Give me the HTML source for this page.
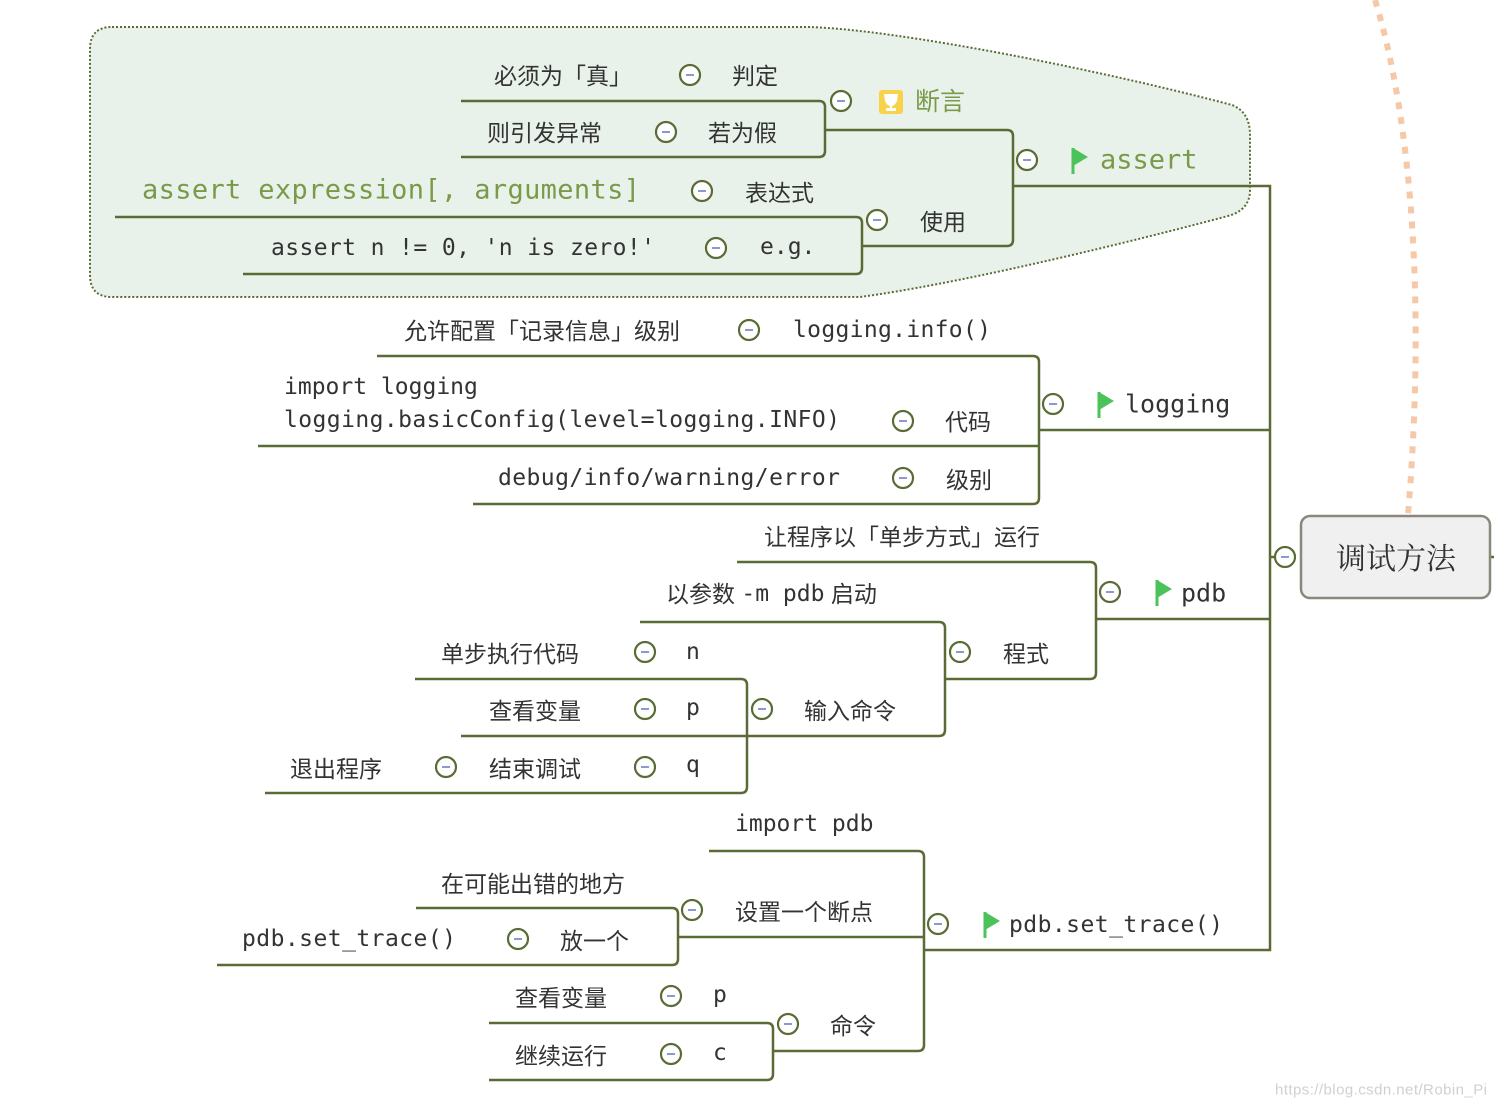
<!DOCTYPE html>
<html><head><meta charset="utf-8"><style>
html,body{margin:0;padding:0;background:#fff;width:1494px;height:1108px;overflow:hidden}
svg{display:block}
.c{font-family:"Liberation Sans","Noto Sans CJK SC",sans-serif;font-size:23px;fill:#333}
.m{font-family:"DejaVu Sans Mono","Liberation Mono",monospace;font-size:23px;fill:#333}
.g{fill:#7a9a4a}
</style></head><body>
<svg width="1494" height="1108" viewBox="0 0 1494 1108" xmlns="http://www.w3.org/2000/svg">
<defs>
<g id="cir"><circle r="10" fill="#fff" stroke="#5a6b35" stroke-width="2.2"/><line x1="-4" y1="0" x2="4" y2="0" stroke="#8a9ad0" stroke-width="2"/></g>
<g id="flag"><line x1="0" y1="-12" x2="0" y2="14" stroke="#4cc25a" stroke-width="3"/><polygon points="0,-12 15,-3 0,6" fill="#4cc25a"/></g>
</defs>
<path d="M112,27 L810,27 C900,30 1100,70 1232,105 Q1250,112 1250,135 L1250,190 Q1250,210 1228,216 C1100,250 950,285 860,297 L112,297 Q90,297 90,275 L90,49 Q90,27 112,27 Z" fill="#e8f2ea" stroke="#5a6b35" stroke-width="2" stroke-dasharray="2 2"/>
<path d="M1375,0 C1400,80 1430,250 1408,515" fill="none" stroke="#f5c8a8" stroke-width="6" stroke-dasharray="7 8"/>
<g fill="none" stroke="#5a6b35" stroke-width="2.5">
<path d="M1013,186 L1270,186 L1270,950 L924,950"/>
<path d="M1039,430 L1270,430 M1096,619 L1270,619 M1270,557 L1276,557 M1490,557 L1494,557"/>
<path d="M1007,130 Q1013,130 1013,136 L1013,240 Q1013,246 1007,246 L862,246"/>
<path d="M825,130 L1007,130"/>
<path d="M461,101 L819,101 Q825,101 825,107 L825,151 Q825,157 819,157 L461,157"/>
<path d="M115,217 L856,217 Q862,217 862,223 L862,268 Q862,274 856,274 L243,274"/>
<path d="M377,356 L1033,356 Q1039,356 1039,362 L1039,498 Q1039,504 1033,504 L473,504"/>
<path d="M258,446 L1039,446"/>
<path d="M737,562 L1090,562 Q1096,562 1096,568 L1096,673 Q1096,679 1090,679 L945,679"/>
<path d="M640,622 L939,622 Q945,622 945,628 L945,730 Q945,736 939,736 L747,736"/>
<path d="M415,679 L741,679 Q747,679 747,685 L747,787 Q747,793 741,793 L265,793"/>
<path d="M461,736 L747,736"/>
<path d="M709,851 L918,851 Q924,851 924,857 L924,1045 Q924,1051 918,1051 L773,1051"/>
<path d="M678,937 L924,937"/>
<path d="M416,908 L672,908 Q678,908 678,914 L678,959 Q678,965 672,965 L217,965"/>
<path d="M489,1023 L767,1023 Q773,1023 773,1029 L773,1074 Q773,1080 767,1080 L489,1080"/>
</g>
<rect x="1301" y="516" width="189" height="82" rx="9" fill="#f0f0f0" stroke="#8a877d" stroke-width="2.5"/>
<text x="1396" y="569" text-anchor="middle" style="font-family:'Noto Serif CJK SC',serif;font-size:30px;fill:#333">调试方法</text>
<use href="#cir" x="1285" y="557"/>
<use href="#cir" x="1027" y="160"/><use href="#cir" x="841" y="101"/><use href="#cir" x="690" y="75"/><use href="#cir" x="666" y="132"/>
<use href="#cir" x="877" y="220"/><use href="#cir" x="702" y="191"/><use href="#cir" x="716" y="248"/>
<use href="#cir" x="1053" y="404"/><use href="#cir" x="749" y="330"/><use href="#cir" x="903" y="421"/><use href="#cir" x="903" y="478"/>
<use href="#cir" x="1110" y="592"/><use href="#cir" x="960" y="652"/><use href="#cir" x="762" y="709"/>
<use href="#cir" x="645" y="652"/><use href="#cir" x="645" y="709"/><use href="#cir" x="645" y="767"/><use href="#cir" x="446" y="767"/>
<use href="#cir" x="938" y="924"/><use href="#cir" x="692" y="910"/><use href="#cir" x="518" y="939"/>
<use href="#cir" x="788" y="1024"/><use href="#cir" x="671" y="996"/><use href="#cir" x="671" y="1054"/>
<use href="#flag" x="1073" y="160"/><use href="#flag" x="1099" y="404"/><use href="#flag" x="1157" y="592"/><use href="#flag" x="985" y="924"/>
<rect x="879" y="90" width="24" height="24" rx="3" fill="#f8d24a"/>
<path d="M884,94 L898,94 L897,101 Q895,106 891,106 Q887,106 885,101 Z" fill="#fff"/><rect x="890" y="105" width="2" height="4" fill="#fff"/><rect x="886" y="108" width="10" height="3" fill="#fff"/>
<g dominant-baseline="central">
<text class="c g" x="915" y="102" style="font-size:25px">断言</text>
<text class="m g" x="1100" y="160" style="font-size:27px">assert</text>
<text class="c" x="494" y="76">必须为「真」</text><text class="c" x="732" y="76">判定</text>
<text class="c" x="487" y="133">则引发异常</text><text class="c" x="708" y="133">若为假</text>
<text class="m g" x="142" y="190" textLength="498" style="font-size:27px">assert expression[, arguments]</text>
<text class="c" x="745" y="193">表达式</text>
<text class="m" x="271" y="248" textLength="384">assert n != 0, 'n is zero!'</text>
<text class="m" x="760" y="247">e.g.</text>
<text class="c" x="920" y="222">使用</text>
<text class="m" x="1125" y="404" style="font-size:25px">logging</text>
<text class="c" x="404" y="331">允许配置「记录信息」级别</text>
<text class="m" x="793" y="330" textLength="198">logging.info()</text>
<text class="m" x="284" y="387">import logging</text>
<text class="m" x="284" y="420" textLength="556">logging.basicConfig(level=logging.INFO)</text>
<text class="c" x="945" y="422">代码</text>
<text class="m" x="498" y="478" textLength="342">debug/info/warning/error</text>
<text class="c" x="946" y="480">级别</text>
<text class="m" x="1181" y="593" style="font-size:25px">pdb</text>
<text class="c" x="764" y="537">让程序以「单步方式」运行</text>
<text class="c" x="666" y="594">以参数 <tspan class="m">-m pdb</tspan>  启动</text>
<text class="c" x="1003" y="654">程式</text>
<text class="c" x="804" y="711">输入命令</text>
<text class="c" x="441" y="654">单步执行代码</text><text class="m" x="686" y="652">n</text>
<text class="c" x="489" y="711">查看变量</text><text class="m" x="686" y="708">p</text>
<text class="c" x="290" y="769">退出程序</text><text class="c" x="489" y="769">结束调试</text><text class="m" x="686" y="765">q</text>
<text class="m" x="1009" y="925" textLength="214">pdb.set_trace()</text>
<text class="m" x="735" y="824">import pdb</text>
<text class="c" x="735" y="912">设置一个断点</text>
<text class="c" x="441" y="884">在可能出错的地方</text>
<text class="m" x="242" y="939" textLength="214">pdb.set_trace()</text>
<text class="c" x="560" y="941">放一个</text>
<text class="c" x="830" y="1026">命令</text>
<text class="c" x="515" y="998">查看变量</text><text class="m" x="713" y="995">p</text>
<text class="c" x="515" y="1056">继续运行</text><text class="m" x="713" y="1053">c</text>
<text x="1275" y="1090" textLength="212" style="font-family:'Liberation Sans',sans-serif;font-size:15px;fill:#d0d0d0">https://blog.csdn.net/Robin_Pi</text>
</g>
</svg>
</body></html>
